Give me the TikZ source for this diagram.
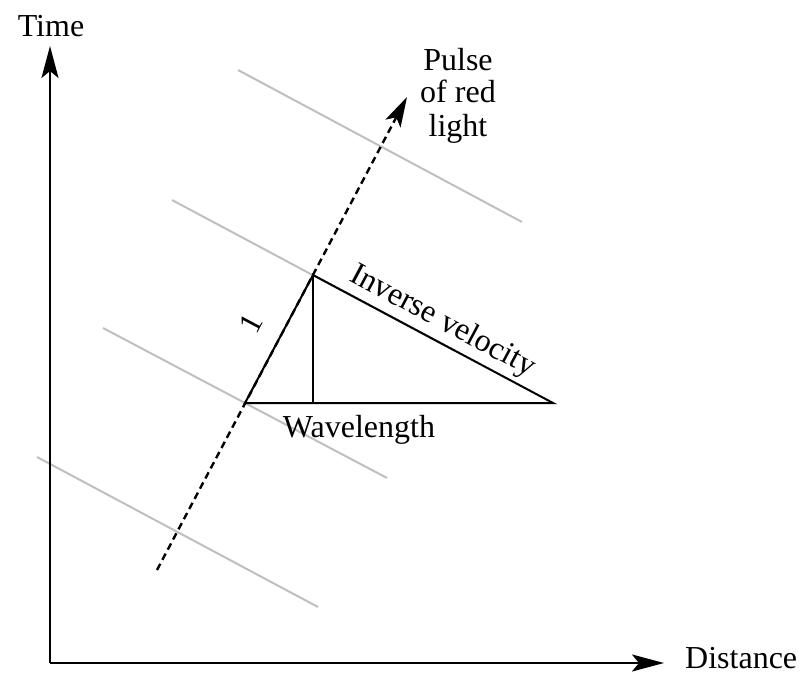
\documentclass[tikz,border=0pt]{standalone}
\usepackage{fontspec}
\setmainfont{Liberation Serif}
\usetikzlibrary{arrows.meta}
\begin{document}
\begin{tikzpicture}[x=1pt,y=-1pt,
  axis/.style={line width=2.4pt,-{Stealth[length=32pt,width=17pt,inset=7pt]}},
  wave/.style={line width=2pt,color=black!25},
  pulse/.style={line width=2.4pt,dash pattern=on 7pt off 4.5pt,-{Stealth[length=30pt,width=17pt,inset=7pt]}},
  tri/.style={line width=2pt},
  lbl/.style={font=\fontsize{32}{33}\selectfont,inner sep=0pt}]
\useasboundingbox (0,0) rectangle (803,674);
% coordinates
\coordinate (O) at (50,663);
\coordinate (Ty) at (50,46);
\coordinate (Tx) at (664,663);
\coordinate (P0) at (157,570);
\coordinate (P1) at (407,97);
\coordinate (A) at (245,403);
\coordinate (B) at (313,275);
\coordinate (C) at (553,403);
\coordinate (F) at (313,403);
\coordinate (W1a) at (238,70);  \coordinate (W1b) at (522,222);
\coordinate (W2a) at (172,200); \coordinate (W2b) at (455,351);
\coordinate (W3a) at (103,328); \coordinate (W3b) at (387,478);
\coordinate (W4a) at (37,457);  \coordinate (W4b) at (318,607);
% wavefronts
\draw[wave] (W1a) -- (W1b);
\draw[wave] (W2a) -- (W2b);
\draw[wave] (W3a) -- (W3b);
\draw[wave] (W4a) -- (W4b);
% pulse
\draw[pulse] (P0) -- (P1);
% triangle
\draw[tri,line join=miter] (A) -- (B) -- (C) -- cycle;
\draw[tri] (B) -- (F);
% axes
\draw[axis] (O) -- (Ty);
\draw[axis] (O) -- (Tx);
% labels
\node[lbl,anchor=base] (time) at (51,37) {Time};
\node[lbl,anchor=base west] (dist) at (685,668) {Distance};
\node[lbl,align=center,anchor=base] (pul) at (458,136) {Pulse\\of red\\light};
\node[lbl,anchor=base] (wl) at (359,437) {Wavelength};
\node[lbl,anchor=base,rotate=-28.07] (iv) at (438.6,328.4) {Inverse velocity};
\node[lbl,rotate=62] (one) at (251,323) {1};
\end{tikzpicture}
\end{document}
